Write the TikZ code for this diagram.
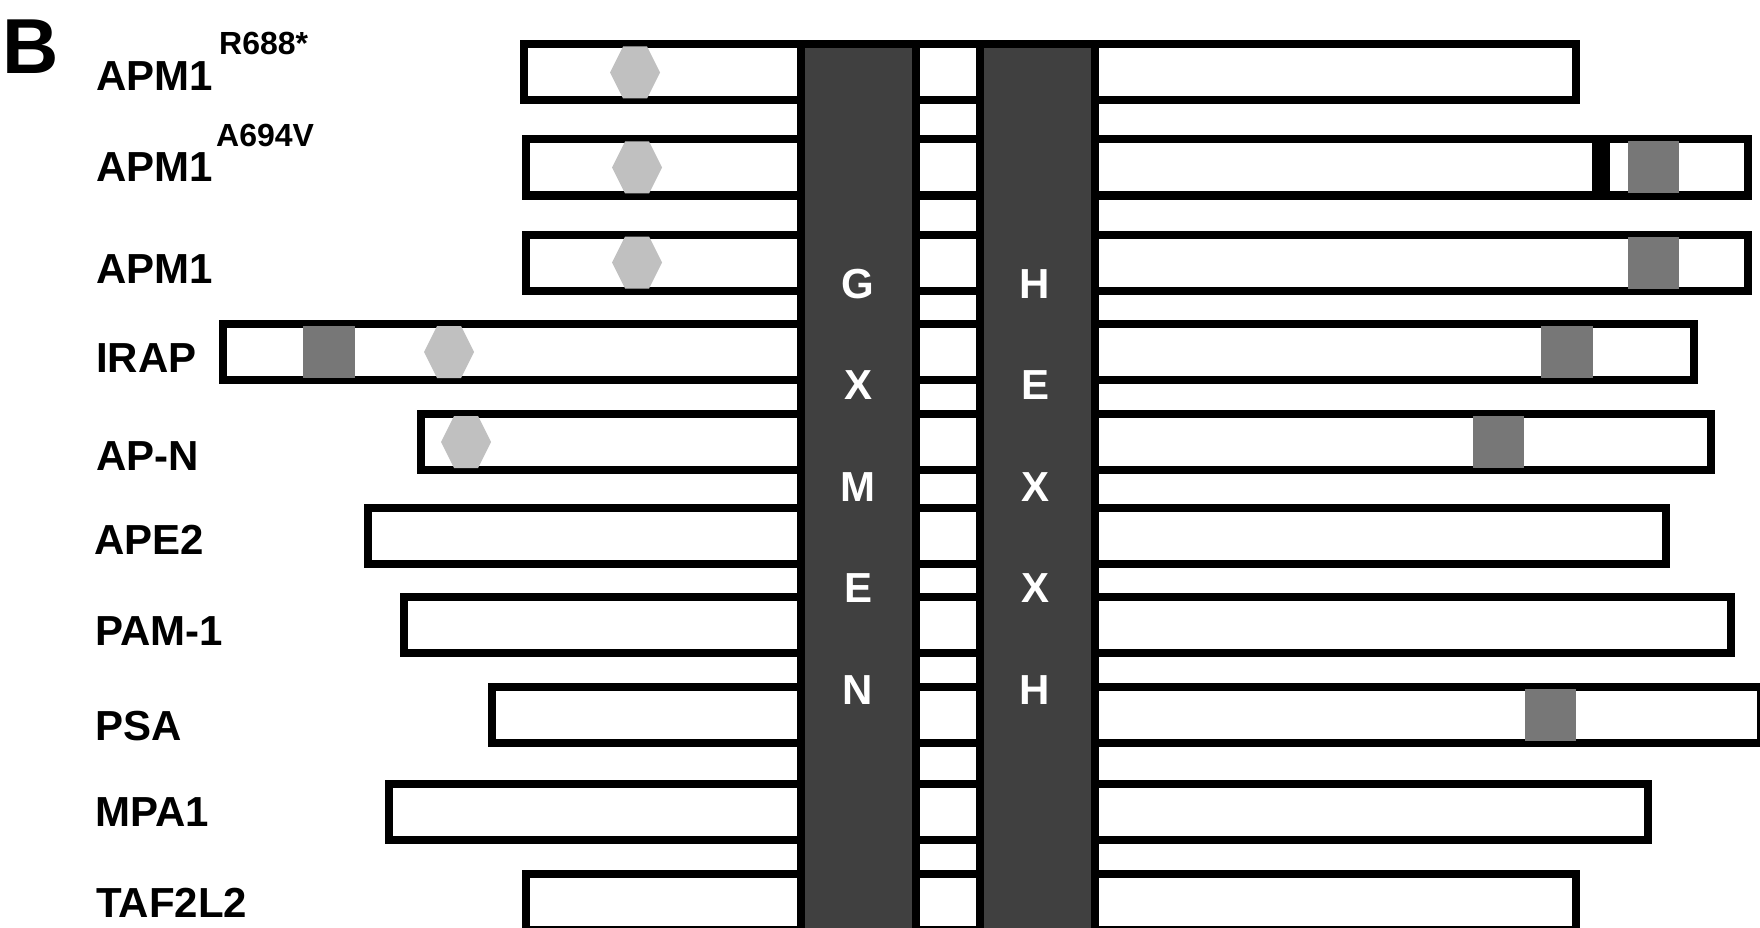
\documentclass[tikz,border=0pt]{standalone}
\usepackage{fontspec}
\setmainfont{Liberation Sans}
\definecolor{colfill}{HTML}{404040}
\definecolor{sqgray}{HTML}{777777}
\definecolor{hexgray}{HTML}{C0C0C0}
\begin{document}
\begin{tikzpicture}[x=1pt,y=-1pt,
  barbox/.style={draw=black,line width=8pt,fill=white},
  motifcol/.style={draw=black,line width=8pt,fill=colfill},
  sq/.style={fill=sqgray},
  hexa/.style={fill=hexgray},
  lab/.style={anchor=base west,inner sep=0pt,font=\fontsize{42}{50}\selectfont\bfseries},
  suplab/.style={anchor=base west,inner sep=0pt,font=\fontsize{32}{38}\selectfont\bfseries},
  colletter/.style={anchor=center,inner sep=0pt,text=white,font=\fontsize{42}{50}\selectfont\bfseries}]
\useasboundingbox (0,0) rectangle (1760,928);
\fill[white] (0,0) rectangle (1760,928);
% bars
\foreach \l/\t/\r in {524/44.5/1576, 526/139.5/1748, 526/234.5/1748, 223/324/1694, 421/414/1711, 368/507.5/1666, 404/596.5/1731, 492/686.5/1761, 389/783.5/1648, 526/873.5/1576}
  \draw[barbox] (\l,\t) rectangle (\r,\t+56);
% separator in APM1 A694V
\fill[black] (1592,143.5) rectangle (1610,192.5);
% squares
\foreach \a/\b/\t in {1628/1679/139.5, 1628/1679/234.5, 303/355/324, 1541/1593/324, 1473/1524/414, 1525/1576/686.5}
  \fill[sq] (\a,\t+2) rectangle (\b,\t+54);
% hexagons
\foreach \c/\t in {635/44.5, 637/139.5, 637/234.5, 449/324, 466/414}
  \fill[hexa] (\c-25,\t+28) -- (\c-12,\t+2) -- (\c+12,\t+2) -- (\c+25,\t+28) -- (\c+12,\t+54) -- (\c-12,\t+54) -- cycle;
% motif columns
\draw[motifcol] (801,44.5) rectangle (916,945);
\draw[motifcol] (980,44.5) rectangle (1095,945);
% column letters
\node[colletter] (g1) at (858,284) {G};
\node[colletter] (g2) at (858,385.5) {X};
\node[colletter] (g3) at (858,487) {M};
\node[colletter] (g4) at (858,588.5) {E};
\node[colletter] (g5) at (858,690) {N};
\node[colletter] (h1) at (1035,284) {H};
\node[colletter] (h2) at (1035,385.5) {E};
\node[colletter] (h3) at (1035,487) {X};
\node[colletter] (h4) at (1035,588.5) {X};
\node[colletter] (h5) at (1035,690) {H};
% labels
\node[anchor=base west,inner sep=0pt,font=\fontsize{78}{90}\selectfont\bfseries] (panel) at (2,74) {B};
\node[lab] (l1) at (96,91) {APM1};
\node[suplab] (s1) at (219,55) {R688*};
\node[lab] (l2) at (96,182) {APM1};
\node[suplab] (s2) at (216,147) {A694V};
\node[lab] (l3) at (96,283) {APM1};
\node[lab] (l4) at (96,372) {IRAP};
\node[lab] (l5) at (96,470) {AP-N};
\node[lab] (l6) at (94,554) {APE2};
\node[lab] (l7) at (95,645) {PAM-1};
\node[lab] (l8) at (95,740) {PSA};
\node[lab] (l9) at (95,826) {MPA1};
\node[lab] (l10) at (96,917) {TAF2L2};
\end{tikzpicture}
\end{document}
